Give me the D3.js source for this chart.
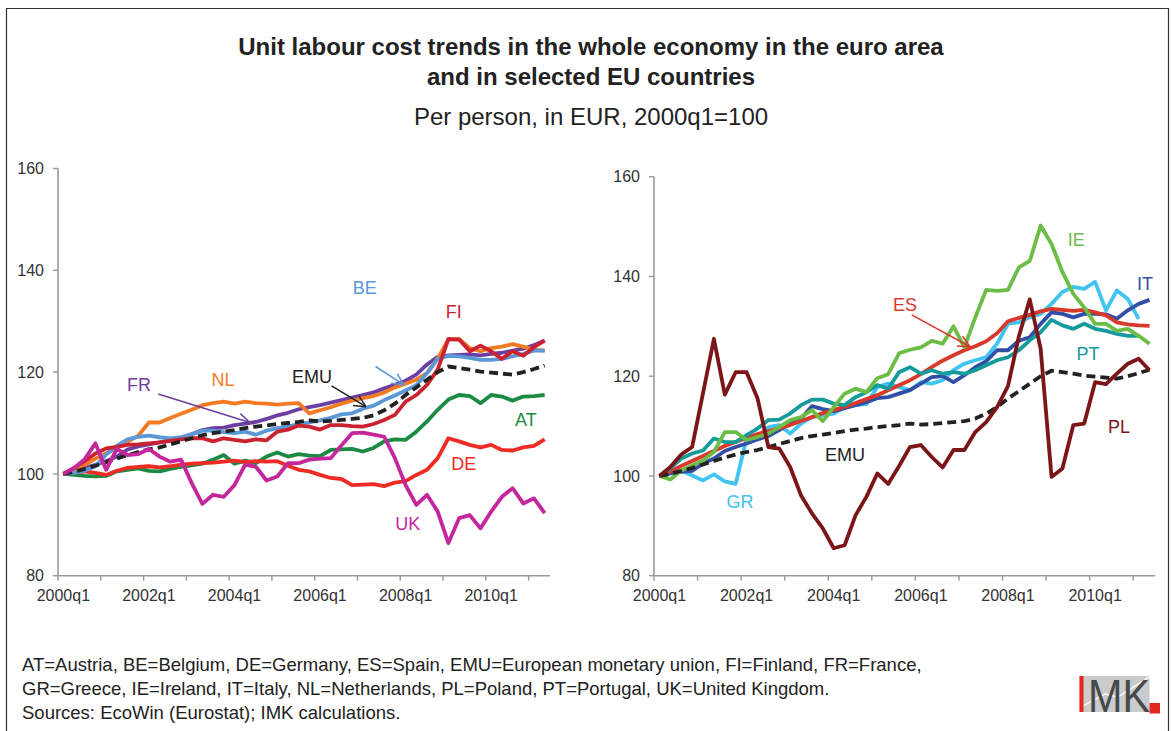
<!DOCTYPE html>
<html><head><meta charset="utf-8">
<script src="https://cdn.jsdelivr.net/npm/d3@7"></script>
<style>
html,body{margin:0;padding:0;background:#fff;}
svg{display:block;font-family:"Liberation Sans",Arial,sans-serif;}
</style></head>
<body>
<svg id="chart" width="1171" height="731"></svg>
<script>
// ---------- DATA ----------
const quarters = ["2000q1","2000q2","2000q3","2000q4","2001q1","2001q2","2001q3","2001q4",
"2002q1","2002q2","2002q3","2002q4","2003q1","2003q2","2003q3","2003q4",
"2004q1","2004q2","2004q3","2004q4","2005q1","2005q2","2005q3","2005q4",
"2006q1","2006q2","2006q3","2006q4","2007q1","2007q2","2007q3","2007q4",
"2008q1","2008q2","2008q3","2008q4","2009q1","2009q2","2009q3","2009q4",
"2010q1","2010q2","2010q3","2010q4","2011q1","2011q2"];
const yTicks = [80, 100, 120, 140, 160];
const xTickLabels = ["2000q1","2002q1","2004q1","2006q1","2008q1","2010q1"];

const EMU = [100,100.4,101,101.6,102.3,103,103.7,104.3,104.8,105.2,105.8,106.4,107,107.6,108,108.3,108.6,109,109.3,109.5,109.8,110,110.2,110.5,110.3,110.4,110.6,110.8,111,111.5,112.5,113.8,115.5,117,118.5,120,121.1,120.8,120.5,120.1,119.9,119.7,119.5,120,120.6,121.3];

// left panel
const AT = [100,99.8,99.6,99.5,99.6,100.5,100.8,101.1,100.6,100.5,101,101.4,101.7,102,102.8,103.7,102,102.6,102.1,103.4,104.2,103.4,103.9,103.6,103.5,104.7,104.8,104.9,104.4,105.1,106.4,106.8,106.7,108.3,110.3,112.6,114.6,115.5,115.3,113.9,115.5,115.2,114.4,115.2,115.3,115.5];
const DE = [100,100.2,100.5,100.2,99.8,100.6,101.2,101.4,101.5,101.3,101.5,101.8,102,102.1,102.2,102.4,102.6,102.3,102.5,102.4,102.5,101.6,100.8,100.5,99.8,99.2,99,97.8,97.9,98,97.6,98.3,98.6,99.8,100.8,103.1,107,106.4,105.7,105.2,105.7,104.7,104.6,105.2,105.5,106.8];
const FR = [100,100.5,101.2,101.8,102.5,103.4,104.8,105.4,105.8,106.2,106.6,107.1,107.8,108.6,109,109.1,109.6,109.9,110.2,110.8,111.5,112,112.7,113.1,113.5,114,114.5,115,115.5,116,116.8,117.5,118.3,119.5,121.5,123,123.3,123.4,123.5,123.3,123.6,123.8,124.2,124.6,125.3,126.2];
const NL = [100,100.5,101.8,103,104,105.1,106.3,107.5,110.1,110.1,111,111.8,112.6,113.5,113.9,114.2,113.8,114.2,113.9,113.8,113.6,113.8,113.9,111.9,112.5,113.1,113.8,114.4,114.9,115.3,116,117,117.7,118.5,119.8,122.7,126.4,126.5,124.7,124.1,124.7,125,125.5,125,124.4,124.2];
const BE = [100,100.2,100.6,101.5,103.8,105.5,106.8,107.3,107.5,107.2,107,107.2,107.8,108.5,108.5,108.2,108,108.3,107.7,108.5,109,109.3,109.8,110.1,110.5,111,111.7,111.9,112.8,113.4,114.5,115.4,116.4,117.4,119.8,122.6,123.2,123.1,122.8,122.4,122.4,122.6,123.1,123.6,124.2,124.2];
const FI = [100,101.2,102.5,104,105,105.3,105.7,105.8,106,106.2,106.5,106.8,107,107,106.4,107,106.7,106.4,106.8,106.6,108.3,108.7,109.5,109.3,108.7,109.6,109.6,109.4,109.3,109.8,110.6,111.6,114.2,115.5,117.5,120.5,126.5,126.4,124.1,125.2,124.1,122.6,124.1,123.2,124.9,126.2];
const UK = [100,101.1,102.9,106,100.8,104.9,103.7,103.9,104.9,103.4,102.4,102.8,98.2,94.1,95.9,95.5,97.8,101.8,101.4,98.7,99.5,102.1,102.1,102.8,103,103.1,105.6,108,108.1,107.7,107.3,103.1,97.8,93.9,95.9,92.6,86.4,91.3,91.9,89.3,92.6,95.5,97.2,94.2,95.2,92.3];

// right panel
const IE = [100,99.3,101.1,102.1,103.1,104.8,108.8,108.8,107.2,107.8,108.5,109.8,111.2,111.8,113.2,111,113.8,116.5,117.5,116.8,119.6,120.4,124.6,125.3,125.8,127.1,126.5,130,125.8,131.8,137.3,137.1,137.3,141.8,143.1,150.2,146.5,140.9,136.5,133.8,130.5,130.5,129.1,129.5,128.1,126.5];
const IT = [100,100.5,100.8,101,102.5,103.5,105,105.8,106.5,107.3,108,109.2,110.5,111.5,114,113.4,113,113.6,114.2,114.8,115.6,115.8,116.5,117.2,118.5,119.8,120,118.8,120.2,121.8,123,125.2,125.2,127.1,127.8,130.5,132.8,132.5,131.8,132.5,132.5,132.4,131.5,133.2,134.5,135.3];
const ES = [100,100.9,102,103,104,105,106,106.8,107.6,108.4,109,109.6,110.2,111,111.8,112.6,113.2,113.9,114.6,115.4,116.2,117.2,118.2,119.2,120.4,121.8,123.1,124.2,125.2,126,127,128.6,131,131.7,132.3,133,133.5,133.3,133.1,133.3,132.8,132.2,130.8,130.4,130.2,130.1];
const PT = [100,101.5,103.5,104.5,105.1,107.5,106.8,106.8,108.2,109.5,111.2,111.3,112.5,114.2,115.3,115.3,114.5,114.2,115.8,116.8,118.2,117.5,120.8,121.8,120.5,121.2,120.5,120.8,120.5,121.2,122.2,123.2,123.8,125.2,127.2,128.8,131.3,130.2,129.5,130.5,129.5,129.1,128.5,128.1,128.1];
const GR = [100,100.5,101.1,100.1,99.1,100.3,98.9,98.4,107.5,107.8,109.8,110.2,108.5,110.5,111.8,112.2,112.5,113.8,114.2,114.4,117.8,118.5,117.8,117.2,118.8,118.5,119.2,121.2,122.5,123.2,123.8,126.5,130.5,130.8,131.8,132.5,134.5,136.9,137.9,137.5,138.9,133.2,137.2,135.5,131.5];
const PL = [100,101.8,104.3,105.8,116.6,127.5,116.3,120.8,120.8,115.6,105.8,105.5,101.8,96.1,92.5,89.5,85.5,86.1,92.1,95.8,100.5,98.4,102,105.8,106.2,103.8,101.7,105.2,105.2,108.8,110.8,113.8,118,128,135.4,125.5,99.8,101.5,110.2,110.5,118.8,118.4,120.5,122.5,123.5,121.2];

const leftSeries = [
  {name:"AT", values:AT, color:"#1b8a43"},
  {name:"DE", values:DE, color:"#ee2b24"},
  {name:"FR", values:FR, color:"#6d3fa2"},
  {name:"NL", values:NL, color:"#f47a22"},
  {name:"BE", values:BE, color:"#5a98d6"},
  {name:"FI", values:FI, color:"#cc2230"},
  {name:"EMU", values:EMU, color:"#222222", dash:true},
  {name:"UK", values:UK, color:"#c5269c"}
];
const rightSeries = [
  {name:"GR", values:GR, color:"#40c4f1"},
  {name:"IT", values:IT, color:"#3150a5"},
  {name:"ES", values:ES, color:"#d9392b"},
  {name:"PT", values:PT, color:"#159b9c"},
  {name:"IE", values:IE, color:"#6cbd45"},
  {name:"EMU", values:EMU, color:"#222222", dash:true},
  {name:"PL", values:PL, color:"#7b1517"}
];

// labels: [text, category index (fractional), value, color]
const leftLabels = [
  ["FR",7.08,117.5,"#6d3fa2"],["NL",14.92,118.5,"#f47a22"],["EMU",23.24,119.1,"#222"],
  ["BE",28.19,136.5,"#5a98d6"],["FI",36.51,131.8,"#cc2230"],["AT",43.24,110.6,"#1b8a43"],
  ["DE",37.44,102.1,"#ee2b24"],["UK",32.2,90.3,"#c5269c"]
];
const rightLabels = [
  ["IE",38.26,147.3,"#6cbd45"],["IT",44.59,138.6,"#3150a5"],["ES",22.55,134.3,"#d9392b"],
  ["PT",39.36,124.6,"#159b9c"],["PL",42.2,109.9,"#7b1517"],["EMU",17.04,104.2,"#222"],
  ["GR",7.4,94.8,"#40c4f1"]
];
// arrows: [i0, v0, i1, v1, color]
const leftArrows = [
  [8.87,115.7,17.44,110.1,"#6d3fa2"],
  [25.08,117.3,28.29,113.2,"#222"],
  [29.19,121.1,31.84,117.5,"#5a98d6"]
];
const rightArrows = [
  [23.17,132.3,28.52,125.9,"#d9392b"]
];

const footer = [
  "AT=Austria, BE=Belgium, DE=Germany, ES=Spain, EMU=European monetary union, FI=Finland, FR=France,",
  "GR=Greece, IE=Ireland, IT=Italy, NL=Netherlands, PL=Poland, PT=Portugal, UK=United Kingdom.",
  "Sources: EcoWin (Eurostat); IMK calculations."
];

// ---------- DRAW ----------
const svg = d3.select("#chart");

// frame
svg.append("path").attr("d","M6.5,731 L6.5,8.5 L1168.5,8.5 L1168.5,731")
  .attr("fill","none").attr("stroke","#333").attr("stroke-width",1.2);

// titles
svg.append("text").attr("x",591).attr("y",54.5).attr("text-anchor","middle")
  .attr("font-size",24).attr("font-weight","bold").attr("fill","#222")
  .text("Unit labour cost trends in the whole economy in the euro area");
svg.append("text").attr("x",591).attr("y",84.5).attr("text-anchor","middle")
  .attr("font-size",24).attr("font-weight","bold").attr("fill","#222")
  .text("and in selected EU countries");
svg.append("text").attr("x",591).attr("y",124.5).attr("text-anchor","middle")
  .attr("font-size",24).attr("fill","#222")
  .text("Per person, in EUR, 2000q1=100");

function panel(cfg){
  const x = d3.scaleBand().domain(quarters).range([cfg.x0, cfg.x1]).paddingInner(0).paddingOuter(0);
  const y = d3.scaleLinear().domain([80,160]).range([cfg.yBottom, cfg.yTop]);
  const cx = i => x.range()[0] + (i + 0.5) * x.step();
  const g = svg.append("g");
  const axisColor = "#9a9a9a";

  // y axis
  g.append("line").attr("x1",cfg.x0).attr("x2",cfg.x0).attr("y1",y(160)).attr("y2",y(80))
    .attr("stroke",axisColor).attr("stroke-width",1.6);
  yTicks.forEach(t=>{
    g.append("line").attr("x1",cfg.x0-5).attr("x2",cfg.x0).attr("y1",y(t)).attr("y2",y(t))
      .attr("stroke",axisColor).attr("stroke-width",1.4);
    g.append("text").attr("x",cfg.x0-14).attr("y",y(t)).attr("dy","0.35em")
      .attr("text-anchor","end").attr("font-size",16).attr("fill","#333").text(t);
  });
  // x axis
  g.append("line").attr("x1",cfg.x0).attr("x2",cfg.x1).attr("y1",y(80)).attr("y2",y(80))
    .attr("stroke",axisColor).attr("stroke-width",1.6);
  quarters.forEach((q,i)=>{
    if(i%4===0){
      g.append("line").attr("x1",x(q)).attr("x2",x(q)).attr("y1",y(80)).attr("y2",y(80)+5)
        .attr("stroke",axisColor).attr("stroke-width",1.4);
    }
    if(xTickLabels.includes(q)){
      g.append("text").attr("x",x(q)+x.bandwidth()/2).attr("y",y(80)+25)
        .attr("text-anchor","middle").attr("font-size",16).attr("fill","#333").text(q);
    }
  });

  const line = d3.line().x((d,i)=>x(quarters[i])+x.bandwidth()/2).y(d=>y(d));
  cfg.series.forEach(s=>{
    g.append("path").datum(s.values).attr("d",line)
      .attr("fill","none").attr("stroke",s.color).attr("stroke-width",3.8)
      .attr("stroke-linejoin","round")
      .attr("stroke-dasharray", s.dash ? "9,5" : null);
  });

  cfg.arrows.forEach(a=>{
    const X0=cx(a[0]), Y0=y(a[1]), X1=cx(a[2]), Y1=y(a[3]);
    g.append("line").attr("x1",X0).attr("y1",Y0).attr("x2",X1).attr("y2",Y1)
      .attr("stroke",a[4]).attr("stroke-width",1.5);
    const ang = Math.atan2(Y1-Y0, X1-X0), L=13, spread=0.45;
    [ang+Math.PI-spread, ang+Math.PI+spread].forEach(b=>{
      g.append("line").attr("x1",X1).attr("y1",Y1)
        .attr("x2",X1+L*Math.cos(b)).attr("y2",Y1+L*Math.sin(b))
        .attr("stroke",a[4]).attr("stroke-width",1.5);
    });
  });

  cfg.labels.forEach(l=>{
    g.append("text").attr("x",cx(l[1])).attr("y",y(l[2])).attr("dy","0.35em")
      .attr("text-anchor","middle").attr("font-size",18).attr("fill",l[3]).text(l[0]);
  });
}

panel({x0:58, x1:550, yTop:168.5, yBottom:575.7, series:leftSeries, labels:leftLabels, arrows:leftArrows});
panel({x0:654, x1:1155, yTop:176.7, yBottom:575.7, series:rightSeries, labels:rightLabels, arrows:rightArrows});

// footer
footer.forEach((t,k)=>{
  svg.append("text").attr("x",22).attr("y",670.5+k*24).attr("font-size",18.5).attr("fill","#222").text(t);
});

// IMK logo
const logo = svg.append("g");
logo.append("rect").attr("x",1079.5).attr("y",676).attr("width",70).attr("height",36).attr("fill","#c9cbcc");
logo.append("path").attr("d","M1083,706 L1105,694 L1118,697 L1150,676.5")
  .attr("fill","none").attr("stroke","#fff").attr("stroke-width",1.4);
logo.append("rect").attr("x",1079.5).attr("y",676).attr("width",4).attr("height",36).attr("fill","#e52521");
logo.append("text").attr("x",1088).attr("y",711.5).attr("font-size",46).attr("fill","#46484a")
  .attr("textLength",62).attr("lengthAdjust","spacingAndGlyphs").text("MK");
logo.append("rect").attr("x",1149.5).attr("y",703).attr("width",10.5).attr("height",10.5).attr("fill","#e52521");
</script>
</body></html>
